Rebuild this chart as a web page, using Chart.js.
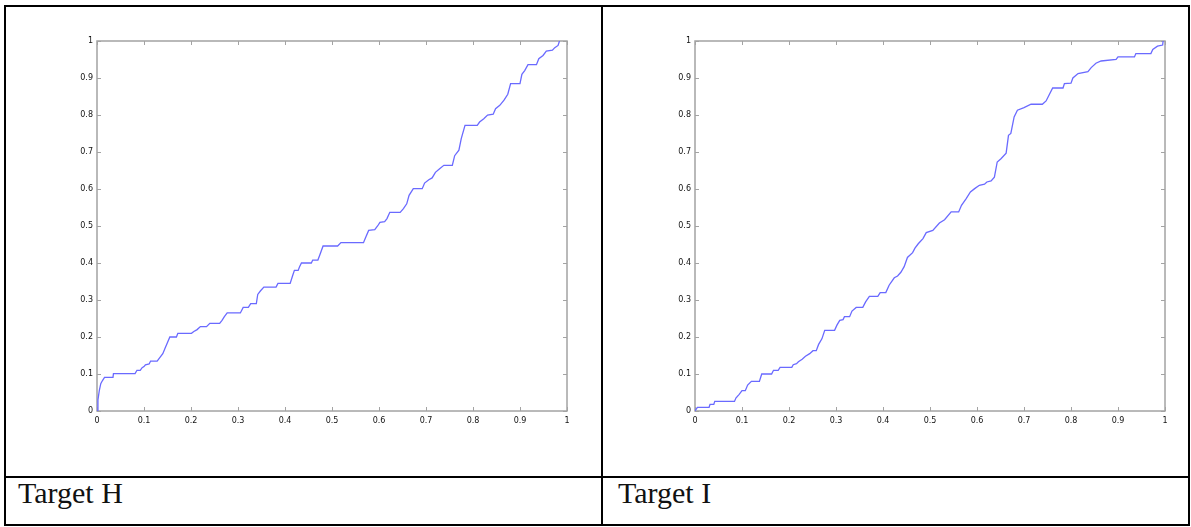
<!DOCTYPE html>
<html>
<head>
<meta charset="utf-8">
<script src="https://cdn.jsdelivr.net/npm/chart.js@4/dist/chart.umd.min.js"></script>
<style>
  html, body { margin: 0; padding: 0; background: #fff; }
  body { width: 1191px; height: 527px; position: relative; overflow: hidden; }
  .ln { position: absolute; background: #000; }
  .cap { position: absolute; font-family: "Liberation Serif", "Times New Roman", serif; font-size: 30px; line-height: 30px; color: #111; white-space: nowrap; }
  canvas { position: absolute; }
</style>
</head>
<body>
<div class="ln" style="left:4px;top:5px;width:1186px;height:2px"></div>
<div class="ln" style="left:4px;top:476px;width:1186px;height:2px"></div>
<div class="ln" style="left:4px;top:524px;width:1186px;height:2px"></div>
<div class="ln" style="left:4px;top:5px;width:2px;height:521px"></div>
<div class="ln" style="left:601px;top:5px;width:2px;height:521px"></div>
<div class="ln" style="left:1188px;top:5px;width:2px;height:521px"></div>
<div class="cap" style="left:18px;top:478px">Target H</div>
<div class="cap" style="left:618px;top:478px">Target I</div>
<canvas id="cH" width="570" height="410" style="left:7px;top:31px"></canvas>
<canvas id="cI" width="570" height="410" style="left:605px;top:31px"></canvas>
<script>
// ---- data ----
const tickValues = [0, 0.1, 0.2, 0.3, 0.4, 0.5, 0.6, 0.7, 0.8, 0.9, 1];
const tickLabels = ["0", "0.1", "0.2", "0.3", "0.4", "0.5", "0.6", "0.7", "0.8", "0.9", "1"];

const hX = [0,0.002,0.005,0.008,0.012,0.016,0.034,0.035,0.081,0.085,0.092,0.096,0.100,0.103,0.111,0.114,0.128,0.134,0.140,0.145,0.150,0.155,0.169,0.172,0.201,0.206,0.213,0.220,0.233,0.240,0.261,0.266,0.271,0.277,0.305,0.311,0.322,0.327,0.339,0.342,0.348,0.355,0.381,0.385,0.411,0.416,0.420,0.428,0.431,0.435,0.456,0.459,0.470,0.475,0.481,0.512,0.519,0.567,0.572,0.578,0.591,0.597,0.602,0.612,0.617,0.623,0.645,0.652,0.659,0.664,0.673,0.692,0.697,0.706,0.713,0.720,0.729,0.738,0.756,0.761,0.770,0.775,0.783,0.809,0.814,0.823,0.831,0.843,0.848,0.857,0.866,0.874,0.880,0.900,0.904,0.910,0.917,0.935,0.940,0.949,0.956,0.969,0.974,0.981,0.984];
const hY = [0,0.030,0.056,0.074,0.083,0.091,0.091,0.101,0.101,0.110,0.110,0.117,0.120,0.125,0.127,0.135,0.135,0.145,0.155,0.170,0.185,0.200,0.200,0.210,0.210,0.215,0.220,0.228,0.228,0.237,0.237,0.245,0.255,0.265,0.265,0.280,0.280,0.290,0.290,0.315,0.325,0.335,0.335,0.345,0.345,0.365,0.380,0.380,0.390,0.400,0.400,0.408,0.408,0.425,0.446,0.446,0.455,0.455,0.470,0.488,0.490,0.500,0.510,0.512,0.520,0.537,0.537,0.547,0.560,0.583,0.601,0.601,0.616,0.625,0.630,0.645,0.655,0.664,0.664,0.690,0.705,0.736,0.772,0.772,0.781,0.790,0.800,0.802,0.817,0.826,0.840,0.856,0.885,0.885,0.910,0.920,0.936,0.936,0.952,0.961,0.973,0.975,0.982,0.988,1.000];

const iX = [0,0.005,0.030,0.032,0.040,0.042,0.084,0.087,0.094,0.100,0.107,0.112,0.120,0.137,0.142,0.163,0.167,0.177,0.181,0.206,0.209,0.216,0.220,0.228,0.235,0.244,0.251,0.258,0.263,0.270,0.276,0.297,0.302,0.308,0.315,0.318,0.329,0.334,0.343,0.357,0.363,0.371,0.389,0.394,0.406,0.413,0.424,0.431,0.438,0.445,0.452,0.463,0.468,0.475,0.485,0.492,0.506,0.520,0.531,0.545,0.561,0.567,0.577,0.586,0.595,0.605,0.616,0.621,0.630,0.637,0.643,0.651,0.662,0.667,0.672,0.679,0.686,0.700,0.715,0.739,0.747,0.761,0.783,0.786,0.800,0.804,0.815,0.836,0.843,0.853,0.864,0.896,0.900,0.935,0.938,0.970,0.974,0.984,0.995,0.996];
const iY = [0,0.010,0.010,0.018,0.018,0.026,0.026,0.035,0.045,0.055,0.055,0.070,0.080,0.080,0.100,0.100,0.110,0.110,0.118,0.118,0.125,0.128,0.133,0.140,0.148,0.155,0.163,0.163,0.180,0.195,0.218,0.218,0.232,0.245,0.247,0.255,0.255,0.270,0.280,0.280,0.295,0.310,0.310,0.320,0.320,0.340,0.360,0.365,0.375,0.390,0.415,0.428,0.440,0.452,0.466,0.482,0.488,0.508,0.517,0.538,0.538,0.556,0.574,0.592,0.601,0.610,0.613,0.619,0.622,0.632,0.673,0.682,0.697,0.745,0.750,0.795,0.813,0.820,0.829,0.829,0.838,0.873,0.873,0.885,0.886,0.900,0.912,0.917,0.928,0.940,0.946,0.950,0.957,0.957,0.966,0.966,0.977,0.986,0.989,1.000];

// ---- drawing ----
const AXIS_COLOR = '#a3a3a3';
const LINE_COLOR = '#6a6aff';
const LABEL_FONT = { family: 'DejaVu Sans, Liberation Sans, sans-serif', size: 8 };

const matlabBox = {
  id: 'matlabBox',
  beforeDatasetsDraw(chart) {
    const { ctx, chartArea: a, scales } = chart;
    ctx.save();
    ctx.strokeStyle = AXIS_COLOR;
    ctx.lineWidth = 1.5;
    ctx.strokeRect(a.left, a.top, a.right - a.left, a.bottom - a.top);
    ctx.lineWidth = 1;
    const L = 4;
    ctx.beginPath();
    tickValues.forEach(v => {
      const px = Math.round(scales.x.getPixelForValue(v)) + 0.5;
      ctx.moveTo(px, a.bottom); ctx.lineTo(px, a.bottom - L);
      ctx.moveTo(px, a.top); ctx.lineTo(px, a.top + L);
      const py = Math.round(scales.y.getPixelForValue(v)) + 0.5;
      ctx.moveTo(a.left, py); ctx.lineTo(a.left + L, py);
      ctx.moveTo(a.right, py); ctx.lineTo(a.right - L, py);
    });
    ctx.stroke();
    ctx.restore();
  }
};

function makeChart(id, xs, ys) {
  const pts = xs.map((x, k) => ({ x: x, y: ys[k] }));
  return new Chart(document.getElementById(id), {
    type: 'scatter',
    data: { datasets: [{ data: pts, showLine: true, borderColor: LINE_COLOR, borderWidth: 1.3, pointRadius: 0, tension: 0, fill: false }] },
    options: {
      responsive: false,
      animation: false,
      devicePixelRatio: 1,
      layout: { padding: { left: 0, right: 10, top: 10, bottom: 0 } },
      plugins: { legend: { display: false }, tooltip: { enabled: false } },
      scales: {
        x: {
          type: 'linear', min: 0, max: 1,
          afterBuildTicks: s => { s.ticks = tickValues.map(v => ({ value: v })); },
          afterFit: s => { s.height = 30; },
          grid: { display: false, drawTicks: false },
          border: { display: false },
          ticks: { padding: 5, color: '#111', font: LABEL_FONT, maxRotation: 0, autoSkip: false,
                   callback: (v) => tickLabels[tickValues.findIndex(t => Math.abs(t - v) < 1e-9)] }
        },
        y: {
          type: 'linear', min: 0, max: 1,
          afterBuildTicks: s => { s.ticks = tickValues.map(v => ({ value: v })); },
          afterFit: s => { s.width = 90; },
          grid: { display: false, drawTicks: false },
          border: { display: false },
          ticks: { padding: 4, color: '#111', font: LABEL_FONT, autoSkip: false,
                   callback: (v) => tickLabels[tickValues.findIndex(t => Math.abs(t - v) < 1e-9)] }
        }
      }
    },
    plugins: [matlabBox]
  });
}

makeChart('cH', hX, hY);
makeChart('cI', iX, iY);
</script>
</body>
</html>
